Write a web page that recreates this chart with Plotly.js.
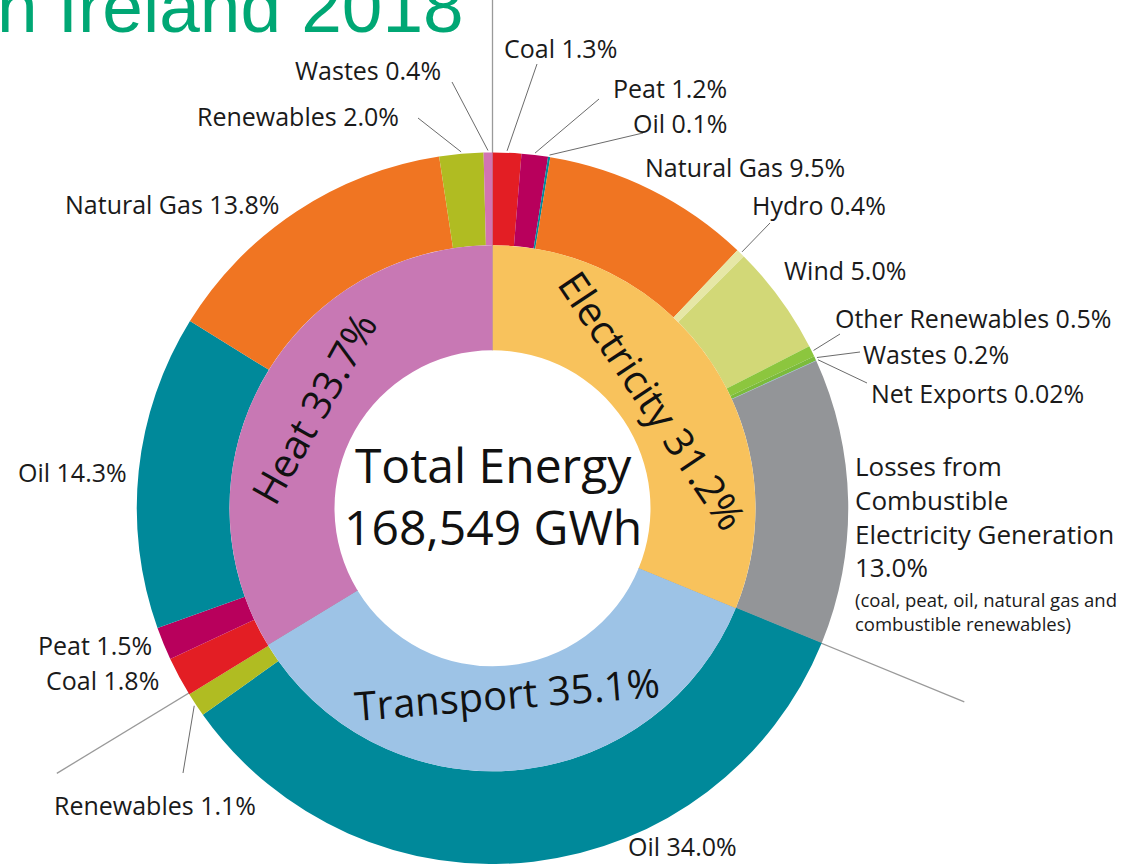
<!DOCTYPE html>
<html><head><meta charset="utf-8">
<script src="https://cdn.plot.ly/plotly-3.0.1.min.js"></script>
<style>html,body{margin:0;padding:0;background:#fff;}#chart{width:1134px;height:864px;}</style>
</head><body><div id="chart"></div>
<script>
// ---------------- data ----------------
const titleText = 'Energy Use in Ireland 2018';
const totalLabel = 'Total Energy';
const totalGWh = 168549;
const categories = ['Electricity', 'Transport', 'Heat'];
const categoryShares = [31.2, 35.1, 33.7];
const electricitySources = ['Coal', 'Peat', 'Oil', 'Natural Gas', 'Hydro', 'Wind', 'Other Renewables', 'Wastes', 'Net Exports', 'Losses from Combustible Electricity Generation'];
const electricityShares = [1.3, 1.2, 0.1, 9.5, 0.4, 5.0, 0.5, 0.2, 0.02, 13.0];
const transportSources = ['Oil', 'Renewables'];
const transportShares = [34.0, 1.1];
const heatSources = ['Coal', 'Peat', 'Oil', 'Natural Gas', 'Renewables', 'Wastes'];
const heatShares = [1.8, 1.5, 14.3, 13.8, 2.0, 0.4];
const lossesNote = '(coal, peat, oil, natural gas and<br>combustible renewables)';

// ---------------- styles ----------------
const categoryColors = ['#F8C25C', '#9DC3E6', '#C878B4'];
const electricityColors = ['#E31E24', '#B8005C', '#00899A', '#F07522', '#E6E7A6', '#D2D877', '#8CC63E', '#7CBB3C', '#5DA3D9', '#939598'];
const transportColors = ['#00899A', '#B0BC22'];
const heatColors = ['#E31E24', '#B8005C', '#00899A', '#F07522', '#B0BC22', '#D274B2'];

const W = 1134, H = 864;
const CX = 492.5, CY = 508.25;
const R_OUT = 355.75, R_MID = 263, R_HOLE = 158, R_SEP = 510;
const FONT = '"Open Sans", "Noto Sans", sans-serif';
const LABEL_SIZE = 25;

// label placement (layout only)
const labelLayout = {
  'Electricity|Coal': {x: 502, y: 48, anchor: 'left', leader: [537, 64]},
  'Electricity|Peat': {x: 729, y: 88, anchor: 'right', leader: [599, 99]},
  'Electricity|Oil': {x: 729, y: 123, anchor: 'right', leader: [643, 133]},
  'Electricity|Natural Gas': {x: 643, y: 167, anchor: 'left'},
  'Electricity|Hydro': {x: 750, y: 205, anchor: 'left', leader: [770, 223]},
  'Electricity|Wind': {x: 782, y: 270, anchor: 'left'},
  'Electricity|Other Renewables': {x: 833, y: 318, anchor: 'left', leader: [840, 334]},
  'Electricity|Wastes': {x: 861, y: 354, anchor: 'left', leader: [860, 352]},
  'Electricity|Net Exports': {x: 869, y: 393, anchor: 'left', leader: [867, 383]},
  'Electricity|Losses from Combustible Electricity Generation': {x: 853, y: 516, anchor: 'left', breaks: [2, 3], noteY: 611},
  'Transport|Oil': {x: 682, y: 846, anchor: 'center'},
  'Transport|Renewables': {x: 155, y: 805, anchor: 'center', leader: [183, 773]},
  'Heat|Coal': {x: 161, y: 680, anchor: 'right'},
  'Heat|Peat': {x: 154, y: 645, anchor: 'right'},
  'Heat|Oil': {x: 129, y: 472, anchor: 'right'},
  'Heat|Natural Gas': {x: 281, y: 204, anchor: 'right'},
  'Heat|Renewables': {x: 401, y: 116, anchor: 'right', leader: [418, 118]},
  'Heat|Wastes': {x: 443, y: 70, anchor: 'right', leader: [452, 82]}
};
const innerLabelRadius = {Electricity: 193, Transport: 186, Heat: 205};

// ---------------- build ----------------
const fmtPct = v => (Math.abs(v * 10 - Math.round(v * 10)) < 1e-9 ? v.toFixed(1) : String(v)) + '%';
const groups = [
  {cat: 'Electricity', names: electricitySources, vals: electricityShares, colors: electricityColors},
  {cat: 'Transport', names: transportSources, vals: transportShares, colors: transportColors},
  {cat: 'Heat', names: heatSources, vals: heatShares, colors: heatColors}
];
const outerIds = [], outerLabels = [], outerValues = [], outerColors = [], outerNames = [];
groups.forEach(g => g.names.forEach((n, i) => {
  outerIds.push(g.cat + '|' + n);
  outerLabels.push(g.cat + ' – ' + n);
  outerNames.push(n);
  outerValues.push(g.vals[i]);
  outerColors.push(g.colors[i]);
}));
const sum = a => a.reduce((s, v) => s + v, 0);
const outerTotal = sum(outerValues);
const innerTotal = sum(categoryShares);
const pt = (r, frac) => {
  const a = frac * 2 * Math.PI;
  return [CX + r * Math.sin(a), CY - r * Math.cos(a)];
};

const traces = [];
// separator lines at category boundaries
let cum = 0;
const boundaries = [0];
categoryShares.forEach((v, i) => { cum += v; if (i < categoryShares.length - 1) boundaries.push(cum / innerTotal); });
boundaries.forEach(f => {
  const a = pt(R_HOLE, f), b = pt(R_SEP, f);
  traces.push({type: 'scatter', mode: 'lines', x: [a[0], b[0]], y: [a[1], b[1]], xaxis: 'x', yaxis: 'y',
    line: {color: '#9a9a9a', width: 1.3}, hoverinfo: 'skip', showlegend: false});
});

const annotations = [];
// outer labels and leaders
let c2 = 0;
outerIds.forEach((id, i) => {
  const mid = (c2 + outerValues[i] / 2) / outerTotal;
  c2 += outerValues[i];
  const L = labelLayout[id];
  if (!L) return;
  if (L.leader) {
    const p = pt(R_OUT + 2, mid);
    traces.push({type: 'scatter', mode: 'lines', x: [L.leader[0], p[0]], y: [L.leader[1], p[1]], xaxis: 'x', yaxis: 'y',
      line: {color: '#6b6b6b', width: 1}, hoverinfo: 'skip', showlegend: false});
  }
  const name = outerNames[i];
  let text;
  if (L.breaks) {
    const words = name.split(' ');
    const lines = [];
    let s = 0;
    L.breaks.concat([words.length]).forEach(e => { lines.push(words.slice(s, e).join(' ')); s = e; });
    text = lines.join('<br>') + '<br>' + fmtPct(outerValues[i]);
  } else {
    text = name + ' ' + fmtPct(outerValues[i]);
  }
  annotations.push({xref: 'x', yref: 'y', x: L.x, y: L.y, xanchor: L.anchor, yanchor: 'middle', align: 'left',
    text: text, showarrow: false, font: {family: FONT, size: L.breaks ? 26 : LABEL_SIZE, color: '#1a1a1a'}});
  if (L.noteY) {
    annotations.push({xref: 'x', yref: 'y', x: L.x, y: L.noteY, xanchor: 'left', yanchor: 'middle', align: 'left',
      text: lossesNote, showarrow: false, font: {family: FONT, size: 18.5, color: '#1a1a1a'}});
  }
});

// inner ring labels (tangential)
let c3 = 0;
categories.forEach((cat, i) => {
  const mid = (c3 + categoryShares[i] / 2) / innerTotal;
  c3 += categoryShares[i];
  const deg = mid * 360;
  const p = pt(innerLabelRadius[cat], mid);
  let ang = deg;
  if (deg > 90 && deg < 270) ang = deg - 180;
  else if (deg >= 270) ang = deg - 360;
  annotations.push({xref: 'x', yref: 'y', x: p[0], y: p[1], xanchor: 'center', yanchor: 'middle',
    text: cat + ' ' + fmtPct(categoryShares[i]), textangle: ang, showarrow: false,
    font: {family: FONT, size: 40, color: '#111'}});
});

// centre text
annotations.push({xref: 'x', yref: 'y', x: CX, y: 495, xanchor: 'center', yanchor: 'middle',
  text: totalLabel + '<br>' + totalGWh.toLocaleString('en-US') + ' GWh', showarrow: false,
  font: {family: FONT, size: 48, color: '#111'}});

// title (cropped at the left edge as in the reference)
annotations.push({xref: 'x', yref: 'y', x: 466, y: 6, xanchor: 'right', yanchor: 'middle',
  text: titleText, showarrow: false, font: {family: '"Liberation Sans", Arial, sans-serif', size: 73, color: '#00A774'}});

// pies
const fx = (a, b) => [a / W, b / W];
const fy = (top, bottom) => [Math.max(0, (H - bottom) / H), Math.min(1, (H - top) / H)];
traces.push({
  type: 'pie', labels: outerLabels, values: outerValues, sort: false, direction: 'clockwise', rotation: 0,
  hole: R_MID / R_OUT, textinfo: 'none', marker: {colors: outerColors, line: {width: 0}},
  domain: {x: fx(CX - R_OUT, CX + R_OUT), y: fy(CY - R_OUT, CY + R_OUT)},
  hovertemplate: '%{label}: %{value}%<extra></extra>', showlegend: false
});
traces.push({
  type: 'pie', labels: categories, values: categoryShares, sort: false, direction: 'clockwise', rotation: 0,
  hole: R_HOLE / R_MID, textinfo: 'none', marker: {colors: categoryColors, line: {width: 0}},
  domain: {x: fx(CX - R_MID, CX + R_MID), y: fy(CY - R_MID, CY + R_MID)},
  hovertemplate: '%{label}: %{value}%<extra></extra>', showlegend: false
});

const layout = {
  width: W, height: H, margin: {l: 0, r: 0, t: 0, b: 0},
  paper_bgcolor: '#fff', plot_bgcolor: 'rgba(0,0,0,0)', showlegend: false,
  xaxis: {range: [0, W], visible: false, fixedrange: true, showgrid: false, zeroline: false},
  yaxis: {range: [H, 0], visible: false, fixedrange: true, showgrid: false, zeroline: false},
  annotations: annotations
};
Plotly.newPlot('chart', traces, layout, {staticPlot: true});
</script></body></html>
